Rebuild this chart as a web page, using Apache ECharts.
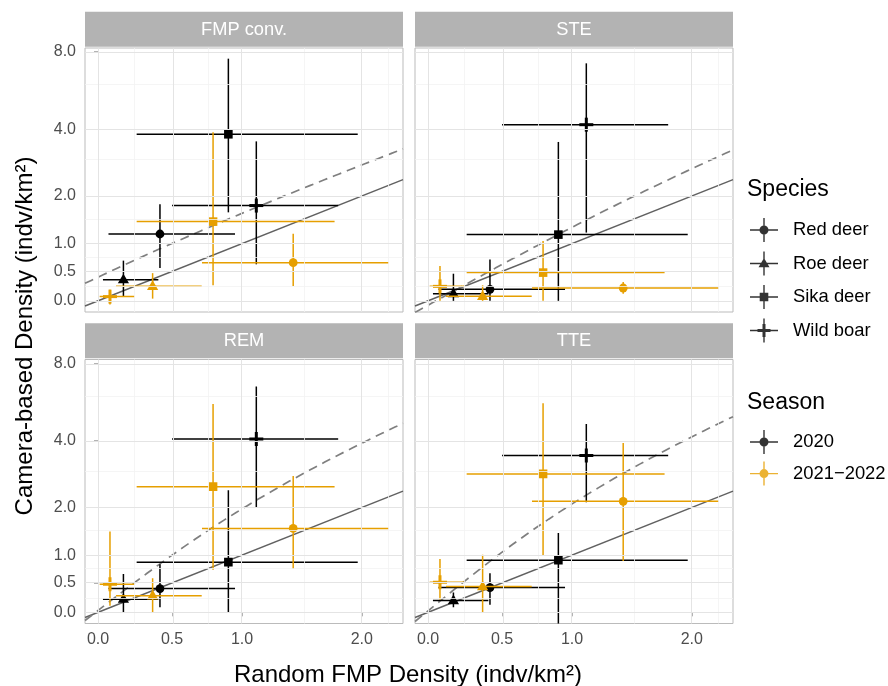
<!DOCTYPE html>
<html>
<head>
<meta charset="utf-8">
<script src="https://cdn.jsdelivr.net/npm/echarts@6/dist/echarts.min.js"></script>
<style>
  html, body { margin: 0; padding: 0; background: #fff; }
  #main { width: 888px; height: 686px; }
</style>
</head>
<body>
<div id="main"></div>
<script>
var species = ['Red deer', 'Roe deer', 'Sika deer', 'Wild boar'];
var seasons = ['2020', '2021\u22122022'];
var panels = ['FMP conv.', 'STE', 'REM', 'TTE'];
var seasonColors = ['#000000', '#E69F00'];

// Random FMP density (x) with interval, same in every panel, species order as above
var x2020 = [0.417, 0.170, 0.899, 1.108];
var x2020Lo = [0.070, 0.033, 0.259, 0.500];
var x2020Hi = [0.948, 0.406, 1.962, 1.783];
var x2021 = [1.399, 0.367, 0.788, 0.080];
var x2021Lo = [0.709, 0.120, 0.259, 0.011];
var x2021Hi = [2.266, 0.707, 1.751, 0.246];

// camera-based density (y), one row per panel
var y2020 = [[1.184, 0.358, 3.81, 1.779], [0.194, 0.121, 1.172, 4.17], [0.403, 0.222, 0.869, 4.06], [0.419, 0.199, 0.906, 3.47]];
var y2020Lo = [[0.559, 0.064, 1.629, 0.624], [0, 0, 0, 1.212], [0.087, 0, 0, 1.99], [0.126, 0.087, -0.3, 2.13]];
var y2020Hi = [[1.81, 0.689, 7.53, 3.56], [0.707, 0.46, 3.54, 7.23], [0.833, 0.654, 2.43, 6.53], [0.671, 0.334, 1.433, 4.67]];
var y2021 = [[0.653, 0.244, 1.433, 0.071], [0.216, 0.076, 0.479, 0.244], [1.53, 0.278, 2.53, 0.476], [2.15, 0.436, 2.89, 0.511]];
var y2021Lo = [[0.249, 0.037, 0.261, -0.06], [0.121, 0, 0, 0], [0.743, 0, 0.730, 0.109], [0.888, 0, 0.986, 0.21]];
var y2021Hi = [[1.191, 0.470, 3.88, 0.188], [0.317, 0.261, 1.049, 0.594], [2.83, 0.583, 5.59, 1.466], [3.91, 1.005, 5.63, 0.925]];

// linear fit (dashed) per panel: y = a + b*x
var fitIntercept = [0.40, -0.074, 0.031, 0.025];
var fitSlope = [1.207, 1.39, 1.936, 2.06];

var xTicks = [0, 0.5, 1, 2];
var yTicks = [0, 0.5, 1, 2, 4, 8];
var xMinor = [0.25, 0.75, 1.5, 2.25];
var yMinor = [0.25, 0.75, 1.5, 3, 6];
var xLim = [-0.087, 2.41];
var yLim = [-0.188, 8.26];

var FONT = '"Liberation Sans", Arial, sans-serif';

// pseudo-log (asinh) transform used on both axes
function tr(v) { return Math.asinh(v / 2); }

function tickLabel(list) {
  return function (v) {
    var best = 0;
    for (var i = 1; i < list.length; i++) {
      if (Math.abs(tr(list[i]) - v) < Math.abs(tr(list[best]) - v)) best = i;
    }
    return list[best].toFixed(1);
  };
}

var panelLeft = [85, 415, 85, 415];
var panelTop = [48, 48, 359.5, 359.5];
var panelW = 318, panelH = 264;

function marker(sp, c, color) {
  var cx = c[0], cy = c[1];
  if (sp === 0) return { type: 'circle', shape: { cx: cx, cy: cy, r: 4.4 }, style: { fill: color } };
  if (sp === 1) return { type: 'polygon', shape: { points: [[cx, cy - 6], [cx + 5.6, cy + 3.7], [cx - 5.6, cy + 3.7]] }, style: { fill: color } };
  if (sp === 2) return { type: 'rect', shape: { x: cx - 4.3, y: cy - 4.3, width: 8.6, height: 8.6 }, style: { fill: color } };
  return {
    type: 'group', children: [
      { type: 'rect', shape: { x: cx - 7, y: cy - 1.5, width: 14, height: 3 }, style: { fill: color } },
      { type: 'rect', shape: { x: cx - 1.5, y: cy - 7, width: 3, height: 14 }, style: { fill: color } }
    ]
  };
}

function renderPoint(params, api) {
  var c = api.coord([api.value(0), api.value(1)]);
  var l = api.coord([api.value(2), api.value(1)]);
  var r = api.coord([api.value(3), api.value(1)]);
  var b = api.coord([api.value(0), api.value(4)]);
  var t = api.coord([api.value(0), api.value(5)]);
  var color = api.visual('color');
  return {
    type: 'group',
    children: [
      { type: 'line', shape: { x1: l[0], y1: c[1], x2: r[0], y2: c[1] }, style: { stroke: color, lineWidth: 1.5 } },
      { type: 'line', shape: { x1: c[0], y1: t[1], x2: c[0], y2: b[1] }, style: { stroke: color, lineWidth: 1.5 } },
      marker(api.value(6), c, color)
    ]
  };
}

var grids = [], xAxes = [], yAxes = [], series = [], graphics = [];

panels.forEach(function (name, p) {
  var bottomRow = p >= 2, leftCol = p % 2 === 0;
  grids.push({
    left: panelLeft[p], top: panelTop[p], width: panelW, height: panelH,
    show: true, borderColor: '#BBBBBB', borderWidth: 1, backgroundColor: '#fff'
  });
  xAxes.push({
    type: 'value', gridIndex: p, min: tr(xLim[0]), max: tr(xLim[1]),
    axisLine: { show: false }, splitLine: { show: false },
    axisTick: { show: bottomRow, customValues: xTicks.map(tr), length: 4, lineStyle: { color: '#B3B3B3' } },
    axisLabel: { show: bottomRow, customValues: xTicks.map(tr), formatter: tickLabel(xTicks), color: '#4D4D4D', fontSize: 16, fontFamily: FONT, margin: 8 }
  });
  yAxes.push({
    type: 'value', gridIndex: p, min: tr(yLim[0]), max: tr(yLim[1]),
    axisLine: { show: false }, splitLine: { show: false },
    axisTick: { show: leftCol, customValues: yTicks.map(tr), length: 4, lineStyle: { color: '#B3B3B3' } },
    axisLabel: { show: leftCol, customValues: yTicks.map(tr), formatter: tickLabel(yTicks), color: '#4D4D4D', fontSize: 16, fontFamily: FONT, margin: 9 }
  });

  // grid lines
  var gl = [];
  xMinor.forEach(function (v) { gl.push({ xAxis: tr(v), lineStyle: { color: '#F2F2F2', width: 0.8, type: 'solid' } }); });
  yMinor.forEach(function (v) { gl.push({ yAxis: tr(v), lineStyle: { color: '#F2F2F2', width: 0.8, type: 'solid' } }); });
  xTicks.forEach(function (v) { gl.push({ xAxis: tr(v), lineStyle: { color: '#E4E4E4', width: 1, type: 'solid' } }); });
  yTicks.forEach(function (v) { gl.push({ yAxis: tr(v), lineStyle: { color: '#E4E4E4', width: 1, type: 'solid' } }); });
  series.push({
    type: 'line', xAxisIndex: p, yAxisIndex: p, data: [], silent: true, z: 1,
    markLine: { silent: true, symbol: ['none', 'none'], label: { show: false }, animation: false, data: gl }
  });

  // 1:1 line and linear fit
  var xs = [];
  for (var k = 0; k <= 60; k++) xs.push(xLim[0] + (xLim[1] - xLim[0]) * k / 60);
  series.push({
    type: 'line', xAxisIndex: p, yAxisIndex: p, silent: true, symbol: 'none', z: 2, clip: true,
    lineStyle: { color: '#616161', width: 1.5 },
    data: [[tr(xLim[0]), tr(xLim[0])], [tr(xLim[1]), tr(xLim[1])]]
  });
  series.push({
    type: 'line', xAxisIndex: p, yAxisIndex: p, silent: true, symbol: 'none', z: 2, clip: true,
    lineStyle: { color: '#7F7F7F', width: 1.7, type: [9, 6] },
    data: xs.map(function (x) { return [tr(x), tr(fitIntercept[p] + fitSlope[p] * x)]; })
  });

  // points with intervals
  [[x2020, x2020Lo, x2020Hi, y2020, y2020Lo, y2020Hi], [x2021, x2021Lo, x2021Hi, y2021, y2021Lo, y2021Hi]].forEach(function (s, si) {
    series.push({
      type: 'custom', name: seasons[si] + ' ' + name, xAxisIndex: p, yAxisIndex: p, z: 3 + si, clip: true,
      itemStyle: { color: seasonColors[si] },
      renderItem: renderPoint,
      data: species.map(function (sp, i) {
        return [tr(s[0][i]), tr(s[3][p][i]), tr(s[1][i]), tr(s[2][i]), tr(s[4][p][i]), tr(s[5][p][i]), i];
      })
    });
  });

  // strip
  graphics.push({ type: 'rect', shape: { x: panelLeft[p], y: panelTop[p] - 36.3, width: panelW, height: 35 }, style: { fill: '#B3B3B3' } });
  graphics.push({
    type: 'text', x: panelLeft[p] + panelW / 2, y: panelTop[p] - 18.5,
    style: { text: name, fill: '#FFFFFF', fontSize: 18.3, fontFamily: FONT, textAlign: 'center', textVerticalAlign: 'middle' }
  });
});

// legend keys
var bars = 'M0 11.3 H28 V12.7 H0 Z M13.3 0 H14.7 V24 H13.3 Z ';
var speciesIcons = [
  'path://' + bars + 'M9.5 12 A4.5 4.5 0 1 1 18.5 12 A4.5 4.5 0 1 1 9.5 12 Z',
  'path://' + bars + 'M14 6.4 L19.5 15.8 L8.5 15.8 Z',
  'path://' + bars + 'M9.7 7.7 H18.3 V16.3 H9.7 Z',
  'path://' + bars + 'M7.5 10.5 H20.5 V13.5 H7.5 Z M12.5 5.5 H15.5 V18.5 H12.5 Z'
];
species.forEach(function (s) {
  series.push({ type: 'scatter', name: s, data: [], itemStyle: { color: '#000000' } });
});
seasons.forEach(function (s, i) {
  series.push({ type: 'scatter', name: s, data: [], itemStyle: { color: seasonColors[i] } });
});

graphics.push({ type: 'text', x: 747, y: 190, style: { text: 'Species', fill: '#000', fontSize: 23, fontFamily: FONT, textVerticalAlign: 'middle' } });
graphics.push({ type: 'text', x: 747, y: 403, style: { text: 'Season', fill: '#000', fontSize: 23, fontFamily: FONT, textVerticalAlign: 'middle' } });
graphics.push({
  type: 'text', x: 408, y: 675,
  style: { text: 'Random FMP Density (indv/km\u00B2)', fill: '#000', fontSize: 24, fontFamily: FONT, textAlign: 'center', textVerticalAlign: 'middle' }
});
graphics.push({
  type: 'text', x: 25, y: 336, rotation: Math.PI / 2,
  style: { text: 'Camera-based Density (indv/km\u00B2)', fill: '#000', fontSize: 24, fontFamily: FONT, textAlign: 'center', textVerticalAlign: 'middle' }
});

var chart = echarts.init(document.getElementById('main'), null, { renderer: 'canvas' });
chart.setOption({
  animation: false,
  backgroundColor: '#ffffff',
  grid: grids,
  xAxis: xAxes,
  yAxis: yAxes,
  legend: [{
    data: species.map(function (s, i) { return { name: s, icon: speciesIcons[i] }; }),
    orient: 'vertical', left: 750, top: 218, padding: 0, itemWidth: 28, itemHeight: 24, itemGap: 9.5,
    selectedMode: false, textStyle: { fontSize: 18.4, color: '#000', fontFamily: FONT, padding: [0, 0, 0, 10] }
  }, {
    data: seasons.map(function (s) { return { name: s, icon: speciesIcons[0] }; }),
    orient: 'vertical', left: 750, top: 430, padding: 0, itemWidth: 28, itemHeight: 24, itemGap: 7.6,
    selectedMode: false, textStyle: { fontSize: 18.4, color: '#000', fontFamily: FONT, padding: [0, 0, 0, 10] }
  }],
  graphic: graphics,
  series: series
});
</script>
</body>
</html>
